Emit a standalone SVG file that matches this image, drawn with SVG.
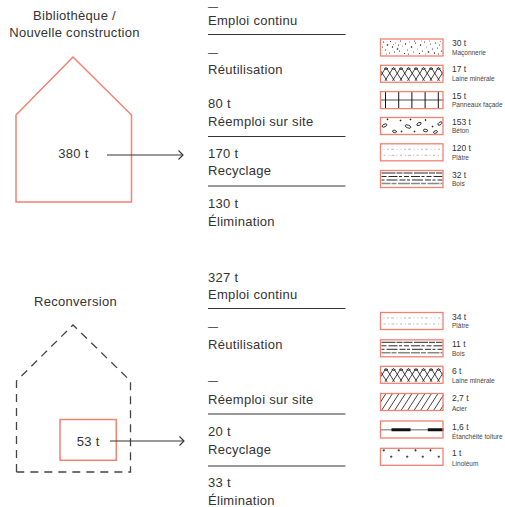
<svg xmlns="http://www.w3.org/2000/svg" xmlns:xlink="http://www.w3.org/1999/xlink" width="505" height="507" viewBox="0 0 505 507">
<style>
text{font-family:"Liberation Sans",Arial,sans-serif;fill:#333}
.lbl{font-size:13px;letter-spacing:0.3px}
.em{font-size:10px}
.big{font-size:13px;letter-spacing:0.3px;text-anchor:middle}
.num{font-size:8.5px}
.mat{font-size:6.5px;fill:#444}
.house{fill:none;stroke:#f08272;stroke-width:1.5}
.dash{fill:none;stroke:#444;stroke-width:1.3;stroke-dasharray:8 6}
.sep{stroke:#333;stroke-width:1}
.sepg{stroke:#9a9a9a;stroke-width:2}
.sw{fill:none;stroke:#f08272;stroke-width:1.3}
.arrow{stroke:#333;stroke-width:1;fill:none}
.k{stroke:#111;fill:none;stroke-width:0.8}
</style>
<defs>
<marker id="chev" viewBox="-6 -6 8 12" markerWidth="8" markerHeight="12" refX="0" refY="0" orient="auto" markerUnits="userSpaceOnUse">
<path d="M-4.5,-4.5 L0,0 L-4.5,4.5" fill="none" stroke="#333" stroke-width="1.1"/>
</marker>
<clipPath id="swc"><rect x="0" y="0" width="63" height="17"/></clipPath>
<g id="maconnerie" fill="#111">
<circle cx="3" cy="3" r="0.6"/><circle cx="7" cy="6" r="0.8"/><circle cx="5" cy="11" r="0.5"/><circle cx="10" cy="2.5" r="0.5"/><circle cx="12" cy="8" r="0.7"/><circle cx="9" cy="14" r="0.5"/><circle cx="15" cy="4" r="0.4"/><circle cx="17" cy="10" r="0.8"/><circle cx="14" cy="13" r="0.5"/><circle cx="20" cy="2" r="0.6"/><circle cx="22" cy="7" r="0.4"/><circle cx="19" cy="12" r="0.6"/><circle cx="25" cy="5" r="0.7"/><circle cx="27" cy="11" r="0.5"/><circle cx="24" cy="14.5" r="0.6"/><circle cx="29" cy="3" r="0.4"/><circle cx="31" cy="8" r="0.8"/><circle cx="33" cy="13" r="0.5"/><circle cx="35" cy="4" r="0.6"/><circle cx="37" cy="10" r="0.4"/><circle cx="34" cy="2" r="0.5"/><circle cx="40" cy="6" r="0.7"/><circle cx="42" cy="12" r="0.5"/><circle cx="39" cy="14.5" r="0.6"/><circle cx="44" cy="3" r="0.5"/><circle cx="46" cy="8" r="0.4"/><circle cx="48" cy="13" r="0.8"/><circle cx="50" cy="5" r="0.5"/><circle cx="52" cy="10" r="0.6"/><circle cx="49" cy="2" r="0.4"/><circle cx="55" cy="4" r="0.6"/><circle cx="57" cy="9" r="0.5"/><circle cx="54" cy="14" r="0.7"/><circle cx="59" cy="6" r="0.5"/><circle cx="61" cy="12" r="0.6"/><circle cx="60" cy="2.5" r="0.4"/><circle cx="2" cy="8" r="0.5"/><circle cx="6" cy="15" r="0.4"/><circle cx="13" cy="5.5" r="0.4"/><circle cx="28" cy="15" r="0.5"/><circle cx="45" cy="15" r="0.4"/><circle cx="58" cy="15" r="0.5"/><circle cx="41" cy="2" r="0.4"/><circle cx="18" cy="6" r="0.5"/>
</g>
<g id="laine" clip-path="url(#swc)" class="k">
<path d="M-3,15.5 L5.5,2 M4.5,15.5 L13,2 M12,15.5 L20.5,2 M19.5,15.5 L28,2 M27,15.5 L35.5,2 M34.5,15.5 L43,2 M42,15.5 L50.5,2 M49.5,15.5 L58,2 M57,15.5 L65.5,2 M-2,2 L6.5,15.5 M5.5,2 L14,15.5 M13,2 L21.5,15.5 M20.5,2 L29,15.5 M28,2 L36.5,15.5 M35.5,2 L44,15.5 M43,2 L51.5,15.5 M50.5,2 L59,15.5 M58,2 L66.5,15.5"/>
<path d="M4,2.6 a1.6,1.6 0 1 0 3.2,0 M11.5,2.6 a1.6,1.6 0 1 0 3.2,0 M19,2.6 a1.6,1.6 0 1 0 3.2,0 M26.5,2.6 a1.6,1.6 0 1 0 3.2,0 M34,2.6 a1.6,1.6 0 1 0 3.2,0 M41.5,2.6 a1.6,1.6 0 1 0 3.2,0 M49,2.6 a1.6,1.6 0 1 0 3.2,0 M56.5,2.6 a1.6,1.6 0 1 0 3.2,0"/>
</g>
<g id="panneaux">
<path d="M0,8.5 H63" stroke="#888" stroke-width="1.5"/>
<path d="M5,0 V17 M18.2,0 V17 M31.4,0 V17 M44.6,0 V17 M57.8,0 V17" stroke="#111" stroke-width="1"/>
</g>
<g id="beton" class="k">
<ellipse cx="4" cy="8" rx="2.6" ry="1.3" transform="rotate(-25 4 8)"/>
<ellipse cx="14" cy="14" rx="2" ry="1.2" transform="rotate(15 14 14)"/>
<ellipse cx="27.5" cy="9" rx="3" ry="1.4" transform="rotate(20 27.5 9)"/>
<ellipse cx="38.5" cy="6.5" rx="2.4" ry="1.3" transform="rotate(-30 38.5 6.5)"/>
<ellipse cx="45" cy="13" rx="2.2" ry="1.3" transform="rotate(10 45 13)"/>
<ellipse cx="55" cy="14.5" rx="2" ry="1.2" transform="rotate(-20 55 14.5)"/>
<ellipse cx="59.5" cy="6" rx="2.4" ry="1.3" transform="rotate(-35 59.5 6)"/>
<circle cx="7" cy="1.8" r="0.5" fill="#111"/><circle cx="20" cy="3" r="0.5" fill="#111"/><circle cx="30" cy="2" r="0.5" fill="#111"/><circle cx="45" cy="2.5" r="0.5" fill="#111"/><circle cx="52" cy="9" r="0.5" fill="#111"/><circle cx="21" cy="14" r="0.5" fill="#111"/><circle cx="34" cy="14" r="0.5" fill="#111"/>
</g>
<g id="platre" stroke="#aaa" stroke-width="0.8" fill="none">
<path d="M3,5.5 H61" stroke-dasharray="1 2.5 2 2 3 2.5 1 3"/>
<path d="M3,11.5 H61" stroke-dasharray="2 3 1 2 3 2 1 2.5"/>
</g>
<g id="bois" fill="none">
<path d="M1,2.5 H62" stroke="#111" stroke-width="0.9" stroke-dasharray="14 1 6 1 9 1.5"/>
<path d="M1,6 H62" stroke="#111" stroke-width="0.9" stroke-dasharray="5 2 9 1.5 3 2"/>
<path d="M1,9.5 H62" stroke="#111" stroke-width="0.9" stroke-dasharray="3 2 11 2 6 1.5"/>
<path d="M1,13 H62" stroke="#888" stroke-width="1.6" stroke-dasharray="9 1 5 1.5 12 1"/>
</g>
<g id="acier" clip-path="url(#swc)" class="k">
<path d="M-12,17 L-1,0 M-5.5,17 L5.5,0 M1,17 L12,0 M7.5,17 L18.5,0 M14,17 L25,0 M20.5,17 L31.5,0 M27,17 L38,0 M33.5,17 L44.5,0 M40,17 L51,0 M46.5,17 L57.5,0 M53,17 L64,0 M59.5,17 L70.5,0"/>
</g>
<g id="etanch" fill="none">
<path d="M0,8.8 H63" stroke="#999" stroke-width="1.6"/>
<path d="M11,8.8 H30 M47.3,8.8 H63" stroke="#111" stroke-width="3"/>
</g>
<g id="lino" stroke="#111" stroke-width="0.7">
<path d="M2.1,2 h2.4 M3.3,0.8 v2.4 M17.1,2 h2.4 M18.3,0.8 v2.4 M33.8,2 h2.4 M35,0.8 v2.4 M48.8,2 h2.4 M50,0.8 v2.4"/>
<path d="M9.5,8.4 h2.4 M10.7,7.2 v2.4 M25.5,8.4 h2.4 M26.7,7.2 v2.4 M41.1,8.4 h2.4 M42.3,7.2 v2.4 M57.1,8.4 h2.4 M58.3,7.2 v2.4"/>
</g>
</defs>

<g id="house-new">
<text class="big" x="74.5" y="20">Bibliothèque /</text>
<text class="big" x="74.5" y="36.5">Nouvelle construction</text>
<polygon class="house" points="73,57 16,115 16,202 131.5,202 131.5,115"/>
<text class="big" x="73.5" y="158.3">380 t</text>
</g>

<g id="house-reconv">
<text class="big" x="75.5" y="306">Reconversion</text>
<polyline class="dash" points="16.5,472 16.5,381 73,325 130.5,381 130.5,472 16.5,472"/>
<rect x="60" y="419.5" width="56.3" height="40.8" class="house"/>
<text class="big" x="88.3" y="445.7">53 t</text>
</g>

<g id="connectors">
<line class="arrow" x1="107" y1="155" x2="183" y2="155" marker-end="url(#chev)"/>
<line class="arrow" x1="110" y1="441" x2="184" y2="441" marker-end="url(#chev)"/>
<line class="sep" x1="208" y1="34.5" x2="345.5" y2="34.5"/>
<line class="sep" x1="208" y1="136.5" x2="345.5" y2="136.5"/>
<line class="sepg" x1="208" y1="186" x2="345.5" y2="186"/>
<line class="sep" x1="208" y1="308.5" x2="345.5" y2="308.5"/>
<line class="sep" x1="208" y1="414" x2="345.5" y2="414"/>
<line class="sep" x1="208" y1="466" x2="345.5" y2="466"/>
</g>

<g id="flows-new">
<text class="em" x="208" y="10">—</text>
<text class="lbl" x="208" y="25">Emploi continu</text>
<text class="em" x="208" y="55.7">—</text>
<text class="lbl" x="208" y="74">Réutilisation</text>
<text class="lbl" x="208" y="107.5">80 t</text>
<text class="lbl" x="208" y="125.5">Réemploi sur site</text>
<text class="lbl" x="208" y="158">170 t</text>
<text class="lbl" x="208" y="174.5">Recyclage</text>
<text class="lbl" x="208" y="207.5">130 t</text>
<text class="lbl" x="208" y="225.5">Élimination</text>
</g>

<g id="flows-reconv">
<text class="lbl" x="208" y="282">327 t</text>
<text class="lbl" x="208" y="298.5">Emploi continu</text>
<text class="em" x="208" y="329.7">—</text>
<text class="lbl" x="208" y="348.5">Réutilisation</text>
<text class="em" x="208" y="384">—</text>
<text class="lbl" x="208" y="403.5">Réemploi sur site</text>
<text class="lbl" x="208" y="435.5">20 t</text>
<text class="lbl" x="208" y="453.5">Recyclage</text>
<text class="lbl" x="208" y="487">33 t</text>
<text class="lbl" x="208" y="505">Élimination</text>
</g>

<g id="materials-new">
<g id="m-maconnerie"><use xlink:href="#maconnerie" x="380.5" y="39"/><rect class="sw" x="380.5" y="39" width="62.5" height="17"/><text class="num" x="452" y="46">30 t</text><text class="mat" x="452" y="55">Maçonnerie</text></g>
<g id="m-laine1"><use xlink:href="#laine" x="380.5" y="65.3"/><rect class="sw" x="380.5" y="65.3" width="62.5" height="17"/><text class="num" x="452" y="72.3">17 t</text><text class="mat" x="452" y="81">Laine minérale</text></g>
<g id="m-panneaux"><use xlink:href="#panneaux" x="380.5" y="91.6"/><rect class="sw" x="380.5" y="91.6" width="62.5" height="17"/><text class="num" x="452" y="98.6">15 t</text><text class="mat" x="452" y="107.3">Panneaux façade</text></g>
<g id="m-beton"><use xlink:href="#beton" x="380.5" y="117.5"/><rect class="sw" x="380.5" y="117.5" width="62.5" height="17"/><text class="num" x="452" y="124.5">153 t</text><text class="mat" x="452" y="133.2">Béton</text></g>
<g id="m-platre1"><use xlink:href="#platre" x="380.5" y="143.8"/><rect class="sw" x="380.5" y="143.8" width="62.5" height="17"/><text class="num" x="452" y="150.8">120 t</text><text class="mat" x="452" y="159.5">Plâtre</text></g>
<g id="m-bois1"><use xlink:href="#bois" x="380.5" y="170.5"/><rect class="sw" x="380.5" y="170.5" width="62.5" height="17"/><text class="num" x="452" y="177.5">32 t</text><text class="mat" x="452" y="186.2">Bois</text></g>
</g>

<g id="materials-reconv">
<g id="m-platre2"><use xlink:href="#platre" x="380.5" y="312.5"/><rect class="sw" x="380.5" y="312.5" width="62.5" height="17"/><text class="num" x="452" y="319.8">34 t</text><text class="mat" x="452" y="328">Plâtre</text></g>
<g id="m-bois2"><use xlink:href="#bois" x="380.5" y="339.8"/><rect class="sw" x="380.5" y="339.8" width="62.5" height="17"/><text class="num" x="452" y="347.2">11 t</text><text class="mat" x="452" y="355.5">Bois</text></g>
<g id="m-laine2"><use xlink:href="#laine" x="380.5" y="366.3"/><rect class="sw" x="380.5" y="366.3" width="62.5" height="17"/><text class="num" x="452" y="373.6">6 t</text><text class="mat" x="452" y="383">Laine minérale</text></g>
<g id="m-acier"><use xlink:href="#acier" x="380.5" y="393.5"/><rect class="sw" x="380.5" y="393.5" width="62.5" height="17"/><text class="num" x="452" y="401">2,7 t</text><text class="mat" x="452" y="410.5">Acier</text></g>
<g id="m-etanch"><use xlink:href="#etanch" x="380.5" y="421"/><rect class="sw" x="380.5" y="421" width="62.5" height="17"/><text class="num" x="452" y="429.5">1,6 t</text><text class="mat" x="452" y="439">Étanchéité toiture</text></g>
<g id="m-lino"><use xlink:href="#lino" x="380.5" y="448.3"/><rect class="sw" x="380.5" y="448.3" width="62.5" height="17"/><text class="num" x="452" y="456">1 t</text><text class="mat" x="452" y="465.5">Linoléum</text></g>
</g>
</svg>
